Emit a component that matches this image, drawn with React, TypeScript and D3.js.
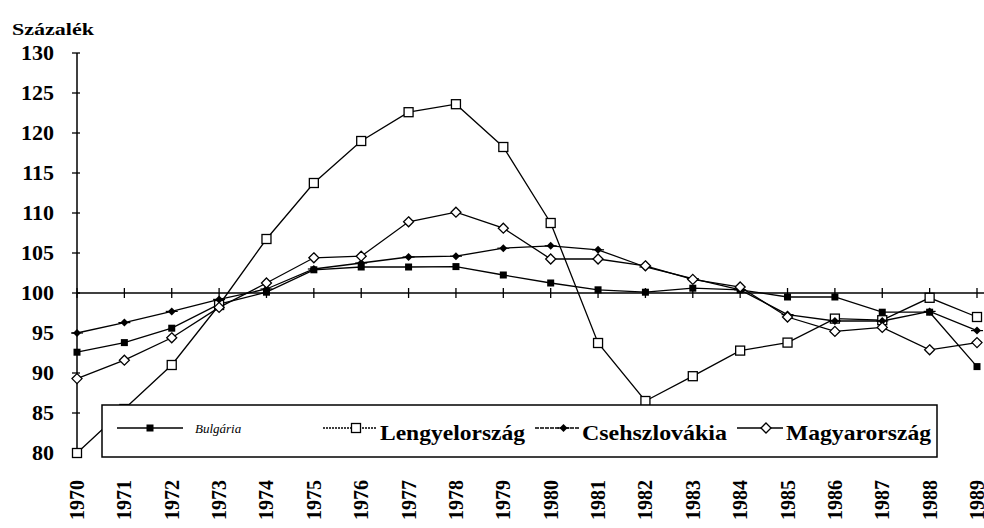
import * as d3 from "d3";

// évek és indexek (százalékban)
const years = [
  1970, 1971, 1972, 1973, 1974, 1975, 1976, 1977, 1978, 1979,
  1980, 1981, 1982, 1983, 1984, 1985, 1986, 1987, 1988, 1989,
];

const bulgaria = [
  92.6, 93.8, 95.6, 98.6, 100.1, 102.9, 103.25, 103.25, 103.3, 102.25,
  101.25, 100.4, 100.1, 100.6, 100.4, 99.5, 99.5, 97.6, 97.6, 90.8,
];
const lengyel = [
  80, 85.5, 91, 98.5, 106.75, 113.75, 119, 122.6, 123.6, 118.25,
  108.75, 93.75, 86.5, 89.6, 92.8, 93.8, 96.8, 96.6, 99.4, 97,
];
const csehszlovakia = [
  95, 96.3, 97.7, 99.2, 100.5, 103, 103.75, 104.5, 104.6, 105.6,
  105.9, 105.4, 103.25, 101.8, 100.4, 97.3, 96.5, 96.5, 97.7, 95.3,
];
const magyar = [
  89.3, 91.6, 94.4, 98.2, 101.25, 104.4, 104.6, 108.9, 110.1, 108.1,
  104.25, 104.25, 103.4, 101.7, 100.75, 97, 95.2, 95.7, 92.9, 93.8,
];

const yTicks = [80, 85, 90, 95, 100, 105, 110, 115, 120, 125, 130];

const W = 984;
const H = 528;
const serif = "'Liberation Serif', 'DejaVu Serif', serif";

type Marker = "fsquare" | "osquare" | "fdiamond" | "odiamond";

const series: { name: string; values: number[]; marker: Marker; dash?: string }[] = [
  { name: "Bulgária", values: bulgaria, marker: "fsquare" },
  { name: "Lengyelország", values: lengyel, marker: "osquare", dash: "2,1" },
  { name: "Csehszlovákia", values: csehszlovakia, marker: "fdiamond", dash: "4,1" },
  { name: "Magyarország", values: magyar, marker: "odiamond" },
];

function MarkerShape({ type, x, y }: { type: Marker; x: number; y: number }) {
  if (type === "fsquare") return <rect x={x - 3.5} y={y - 3.5} width={7} height={7} fill="#000" />;
  if (type === "osquare")
    return <rect x={x - 4.5} y={y - 4.5} width={9} height={9} fill="#fff" stroke="#000" strokeWidth={1.3} />;
  const r = type === "fdiamond" ? 4 : 5;
  const d = `M${x},${y - r}L${x + r},${y}L${x},${y + r}L${x - r},${y}Z`;
  return type === "fdiamond" ? (
    <g>
      <path d={d} fill="#000" />
      <line x1={x - 6} x2={x + 6} y1={y} y2={y} stroke="#000" strokeWidth={1.2} />
    </g>
  ) : (
    <path d={d} fill="#fff" stroke="#000" strokeWidth={1.3} />
  );
}

export default function App() {
  const x = d3.scalePoint<number>().domain(years).range([77, 977]);
  const y = d3.scaleLinear().domain([80, 130]).range([453, 53]);

  const line = d3
    .line<number>()
    .x((_, i) => x(years[i]) as number)
    .y((v) => y(v));

  const legendItems = [
    { s: series[0], x1: 117, x2: 183, tx: 195, italic: true },
    { s: series[1], x1: 323, x2: 377, tx: 380, italic: false },
    { s: series[2], x1: 535, x2: 580, tx: 582, italic: false },
    { s: series[3], x1: 737, x2: 783, tx: 786, italic: false },
  ];

  return (
    <svg
      width={W}
      height={H}
      style={{ position: "absolute", left: 0, top: 0, background: "#fff" }}
      fontFamily={serif}
    >
      <rect width={W} height={H} fill="#fff" />
      <text x={12} y={35} fontSize={17} fontWeight="bold" textLength={82} lengthAdjust="spacingAndGlyphs">
        Százalék
      </text>

      {/* y tengely */}
      <line x1={77} x2={77} y1={y(130)} y2={y(80)} stroke="#000" strokeWidth={1.5} />
      {yTicks.map((t) => (
        <g key={t}>
          <line x1={72} x2={80} y1={y(t)} y2={y(t)} stroke="#000" strokeWidth={1.3} />
          <text x={54} y={y(t) + 7} fontSize={22} fontWeight="bold" textAnchor="end">
            {t}
          </text>
        </g>
      ))}

      {/* kategória tengely a 100-as szinten */}
      <line x1={77} x2={W} y1={y(100)} y2={y(100)} stroke="#000" strokeWidth={1.3} />
      {years.map((yr) => (
        <g key={yr}>
          <line x1={x(yr)} x2={x(yr)} y1={y(100) - 5} y2={y(100) + 5} stroke="#000" strokeWidth={1.3} />
          <text
            transform={`translate(${(x(yr) as number) + 7},480) rotate(-90)`}
            fontSize={20}
            fontWeight="bold"
            textAnchor="end"
          >
            {yr}
          </text>
        </g>
      ))}

      {series.map((s) => (
        <g key={s.name}>
          <path d={line(s.values) || ""} fill="none" stroke="#000" strokeWidth={1.3} />
          {s.values.map((v, i) => (
            <MarkerShape key={i} type={s.marker} x={x(years[i]) as number} y={y(v)} />
          ))}
        </g>
      ))}

      {/* jelmagyarázat */}
      <rect x={102} y={405} width={835} height={52} fill="#fff" stroke="#000" strokeWidth={1.5} />
      {legendItems.map((it) => (
        <g key={it.s.name}>
          <line
            x1={it.x1}
            x2={it.x2}
            y1={428}
            y2={428}
            stroke="#000"
            strokeWidth={1.4}
            strokeDasharray={it.s.dash}
          />
          <MarkerShape type={it.s.marker} x={(it.x1 + it.x2) / 2 + (it.italic ? 0 : 6)} y={428} />
          {it.italic ? (
            <text x={it.tx} y={433} fontSize={13} fontStyle="italic">
              {it.s.name}
            </text>
          ) : (
            <text
              x={it.tx}
              y={440}
              fontSize={21}
              fontWeight="bold"
              textLength={145}
              lengthAdjust="spacingAndGlyphs"
            >
              {it.s.name}
            </text>
          )}
        </g>
      ))}
    </svg>
  );
}
